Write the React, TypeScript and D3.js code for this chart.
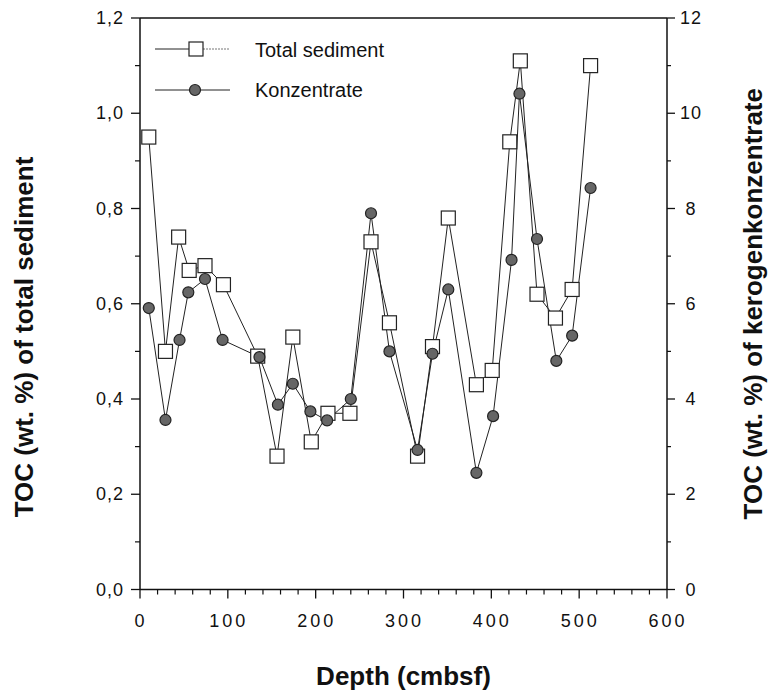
import React from "react";
import * as d3 from "d3";

const depthTotal = [10, 29, 44, 56, 74, 95, 134, 156, 174, 195, 214, 239, 263, 284, 316, 333, 351, 383, 401, 421, 433, 452, 473, 492, 513];
const tocTotal = [0.95, 0.5, 0.74, 0.67, 0.68, 0.64, 0.49, 0.28, 0.53, 0.31, 0.37, 0.37, 0.73, 0.56, 0.28, 0.51, 0.78, 0.43, 0.46, 0.94, 1.11, 0.62, 0.57, 0.63, 1.1];

const depthKonz = [10, 29, 45, 55, 74, 94, 136, 157, 174, 194, 213, 240, 263, 284, 316, 333, 351, 383, 402, 423, 432, 452, 474, 492, 513];
const tocKonz = [5.91, 3.56, 5.24, 6.24, 6.52, 5.24, 4.88, 3.88, 4.32, 3.74, 3.55, 4.0, 7.9, 5.0, 2.93, 4.95, 6.3, 2.45, 3.64, 6.92, 10.41, 7.36, 4.8, 5.33, 8.43];

const xTicks = [0, 100, 200, 300, 400, 500, 600];
const leftTicks = [0, 0.2, 0.4, 0.6, 0.8, 1.0, 1.2];
const rightTicks = [0, 2, 4, 6, 8, 10, 12];

const seriesNames = ["Total sediment", "Konzentrate"];
const xTitle = "Depth (cmbsf)";
const leftTitle = "TOC (wt. %) of total sediment";
const rightTitle = "TOC (wt. %) of kerogenkonzentrate";

const W = 771;
const H = 695;
const L = 140;
const R = 667;
const T = 18;
const B = 589.5;

const FONT = "'Liberation Sans', Arial, Helvetica, sans-serif";

export default function App() {
  const x = d3.scaleLinear().domain([0, 600]).range([L, R]);
  const yL = d3.scaleLinear().domain([0, 1.2]).range([B, T]);
  const yR = d3.scaleLinear().domain([0, 12]).range([B, T]);

  const totalPts = depthTotal.map((d, i) => [d, tocTotal[i]] as [number, number]);
  const konzPts = depthKonz.map((d, i) => [d, tocKonz[i]] as [number, number]);

  const lineT = d3.line<[number, number]>().x((p) => x(p[0])).y((p) => yL(p[1]));
  const lineK = d3.line<[number, number]>().x((p) => x(p[0])).y((p) => yR(p[1]));

  const xMinor = d3.range(0, 601, 20).filter((v) => v % 100 !== 0);
  const lMinor = d3.range(1, 12, 2).map((v) => v / 10);
  const rMinor = d3.range(1, 12, 2);

  const fmtL = (v: number) => d3.format(".1f")(v).replace(".", ",");
  const sq = 14;

  return (
    <svg width={W} height={H} style={{ position: "absolute", left: 0, top: 0, background: "#fff" }} fontFamily={FONT}>
      <rect x={0} y={0} width={W} height={H} fill="#fff" />
      {/* frame */}
      <line x1={L} y1={T} x2={R} y2={T} stroke="#111" strokeWidth={1.5} />
      <line x1={L} y1={T} x2={L} y2={B} stroke="#111" strokeWidth={1.5} />
      <line x1={R} y1={T} x2={R} y2={B} stroke="#111" strokeWidth={1.5} />
      <line x1={L} y1={B} x2={R} y2={B} stroke="#111" strokeWidth={1.5} />

      {/* x ticks */}
      {xTicks.map((v) => (
        <g key={"xt" + v}>
          <line x1={x(v)} y1={B} x2={x(v)} y2={B + 9} stroke="#111" strokeWidth={1.3} />
          <text x={x(v) + 1} y={B + 37} textAnchor="middle" fontSize={18} letterSpacing={3} fill="#111">
            {v}
          </text>
        </g>
      ))}
      {xMinor.map((v) => (
        <line key={"xm" + v} x1={x(v)} y1={B} x2={x(v)} y2={B + 5} stroke="#111" strokeWidth={1.2} />
      ))}

      {/* left ticks */}
      {leftTicks.map((v) => (
        <g key={"lt" + v}>
          <line x1={L - 9} y1={yL(v)} x2={L} y2={yL(v)} stroke="#111" strokeWidth={1.3} />
          <text x={L - 16} y={yL(v) + 6} textAnchor="end" fontSize={18} letterSpacing={1} fill="#111">
            {fmtL(v)}
          </text>
        </g>
      ))}
      {lMinor.map((v) => (
        <line key={"lm" + v} x1={L - 5} y1={yL(v)} x2={L} y2={yL(v)} stroke="#111" strokeWidth={1.2} />
      ))}

      {/* right ticks */}
      {rightTicks.map((v) => (
        <g key={"rt" + v}>
          <line x1={R} y1={yR(v)} x2={R + 8} y2={yR(v)} stroke="#111" strokeWidth={1.3} />
          <text x={R + 24} y={yR(v) + 6} textAnchor="middle" fontSize={18} letterSpacing={1} fill="#111">
            {v}
          </text>
        </g>
      ))}
      {rMinor.map((v) => (
        <line key={"rm" + v} x1={R} y1={yR(v)} x2={R + 4} y2={yR(v)} stroke="#111" strokeWidth={1.2} />
      ))}

      {/* data lines */}
      <path d={lineT(totalPts) || ""} fill="none" stroke="#222" strokeWidth={1} />
      <path d={lineK(konzPts) || ""} fill="none" stroke="#222" strokeWidth={1} />

      {/* markers */}
      {totalPts.map((p, i) => (
        <rect
          key={"s" + i}
          x={x(p[0]) - sq / 2}
          y={yL(p[1]) - sq / 2}
          width={sq}
          height={sq}
          fill="#fff"
          stroke="#222"
          strokeWidth={1.2}
        />
      ))}
      {konzPts.map((p, i) => (
        <circle key={"c" + i} cx={x(p[0])} cy={yR(p[1])} r={5.5} fill="#666" stroke="#222" strokeWidth={1.2} />
      ))}

      {/* legend */}
      <line x1={155} y1={49} x2={190} y2={49} stroke="#222" strokeWidth={1} />
      <line x1={203} y1={49} x2={230} y2={49} stroke="#777" strokeWidth={1} strokeDasharray="2,1" />
      <rect x={196 - sq / 2} y={49 - sq / 2} width={sq} height={sq} fill="#fff" stroke="#222" strokeWidth={1.2} />
      <text x={255} y={57} fontSize={20} fill="#111">
        {seriesNames[0]}
      </text>
      <line x1={155} y1={90} x2={230} y2={90} stroke="#222" strokeWidth={1} />
      <circle cx={195} cy={90} r={5.5} fill="#666" stroke="#222" strokeWidth={1.2} />
      <text x={255} y={97} fontSize={20} fill="#111">
        {seriesNames[1]}
      </text>

      {/* titles */}
      <text x={(L + R) / 2} y={685} textAnchor="middle" fontSize={26} fontWeight="bold" fill="#111">
        {xTitle}
      </text>
      <text
        transform={`translate(33, 337) rotate(-90)`}
        textAnchor="middle"
        fontSize={26}
        fontWeight="bold"
        fill="#111"
      >
        {leftTitle}
      </text>
      <text
        transform={`translate(762, ${(T + B) / 2}) rotate(-90)`}
        textAnchor="middle"
        fontSize={26}
        fontWeight="bold"
        fill="#111"
      >
        {rightTitle}
      </text>
    </svg>
  );
}
